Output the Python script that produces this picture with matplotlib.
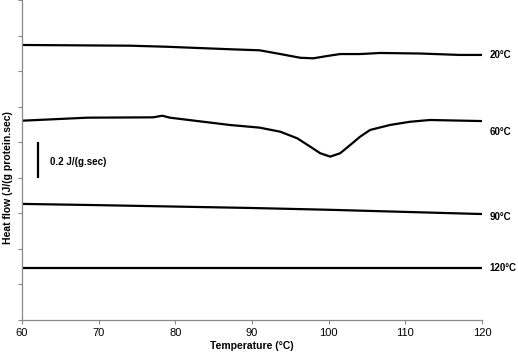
import matplotlib
matplotlib.use("Agg")
import matplotlib.pyplot as plt

plt.rcParams['font.family'] = ['Liberation Sans', 'DejaVu Sans']

# temperature (°C) and heat flow values
t_20 = [60, 74.1, 78.9, 87.1, 91.0, 93.7, 96.3, 98.0, 99.8, 101.5, 104.1, 106.7, 111.9, 117.1, 120]
hf_20 = [1.547, 1.543, 1.537, 1.523, 1.517, 1.496, 1.475, 1.472, 1.485, 1.496, 1.496,
         1.502, 1.499, 1.491, 1.491]

t_60 = [60, 68.5, 77.1, 78.3, 79.3, 87.1, 91.0, 93.7, 95.9, 97.6, 98.9, 100.2, 101.5,
        102.8, 104.1, 105.4, 108.0, 110.6, 113.2, 120]
hf_60 = [1.121, 1.138, 1.140, 1.149, 1.138, 1.097, 1.082, 1.059, 1.022, 0.975, 0.938,
         0.919, 0.938, 0.984, 1.031, 1.069, 1.097, 1.115, 1.125, 1.119]

t_90 = [60, 70, 80, 90, 100, 110, 120]
hf_90 = [0.653, 0.646, 0.638, 0.630, 0.620, 0.608, 0.596]

t_120 = [60, 120]
hf_120 = [0.295, 0.295]

curves = [(t_20, hf_20, "20°C"), (t_60, hf_60, "60°C"),
          (t_90, hf_90, "90°C"), (t_120, hf_120, "120°C")]
label_y = [1.491, 1.057, 0.579, 0.295]

fig = plt.figure(figsize=(5.18, 3.55), dpi=100)
ax = fig.add_axes([0.0425, 0.0986, 0.888, 0.9014])

for (t, hf, name), ly in zip(curves, label_y):
    ax.plot(t, hf, color="black", lw=1.6, solid_capstyle="butt", solid_joinstyle="round")
    ax.text(121.0, ly, name, fontsize=7, fontweight="bold", va="center", ha="left",
            clip_on=False)

# scale bar
ax.plot([62.1, 62.1], [0.8, 1.0], color="black", lw=1.6, solid_capstyle="butt")
ax.text(63.6, 0.89, "0.2 J/(g.sec)", fontsize=7, fontweight="bold", va="center")

ax.set_xlim(60, 120)
ax.set_ylim(0, 1.8)
ax.set_xticks(range(60, 121, 10))
ax.set_yticks([i * 0.2 for i in range(10)])
ax.set_yticklabels([])
ax.tick_params(axis="both", colors="#888888", labelcolor="black", labelsize=8,
               length=3, width=0.8)
ax.tick_params(axis="x", pad=3)
for side in ["top", "right"]:
    ax.spines[side].set_visible(False)
for side in ["left", "bottom"]:
    ax.spines[side].set_color("#888888")
    ax.spines[side].set_linewidth(0.9)

ax.set_xlabel("Temperature (°C)", fontsize=7.5, fontweight="bold", labelpad=2)
fig.text(0.016, 0.5, "Heat flow (J/(g protein.sec)", fontsize=7.5, fontweight="bold",
         rotation=90, va="center", ha="center")

fig.savefig("out.png", dpi=100)
